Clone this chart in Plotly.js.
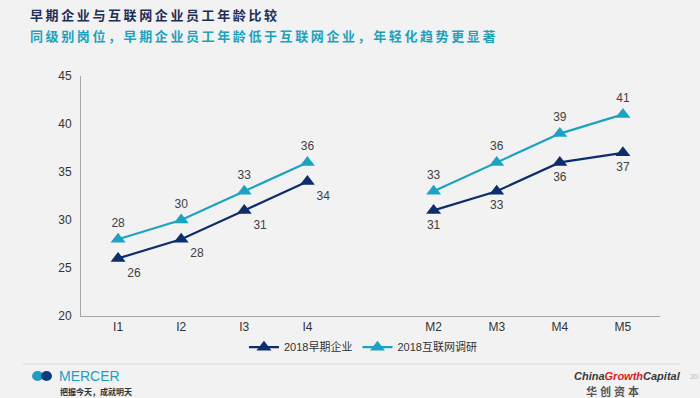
<!DOCTYPE html>
<html>
<head>
<meta charset="utf-8">
<script src="https://cdn.plot.ly/plotly-3.0.1.min.js"></script>
<style>
html,body{margin:0;padding:0;background:#f2f2f2;}
#chart{width:700px;height:398px;}
</style>
</head>
<body>
<div id="chart"></div>
<script>
var categories = ['I1', 'I2', 'I3', 'I4', ' ', 'M2', 'M3', 'M4', 'M5'];
var earlyStage = [26, 28, 31, 34, null, 31, 33, 36, 37];
var internet = [28, 30, 33, 36, null, 33, 36, 39, 41];
var earlyLabelPos = ['bottom right', 'bottom right', 'bottom right', 'bottom right', 'bottom center',
                     'bottom center', 'bottom center', 'bottom center', 'bottom center'];
var seriesNames = ['2018早期企业', '2018互联网调研'];
var yTicks = [20, 25, 30, 35, 40, 45];

var navy = '#0c2d6e';
var teal = '#1ba3c6';
var labelFont = {family: 'Liberation Sans, Arial, sans-serif', size: 12, color: '#404040'};

var traces = [
  {
    x: categories, y: earlyStage, name: seriesNames[0], type: 'scatter', mode: 'lines+markers+text',
    line: {color: navy, width: 2.2},
    marker: {symbol: 'triangle-up', size: 13, color: navy},
    texttemplate: '%{y}', textposition: earlyLabelPos, textfont: labelFont,
    connectgaps: false, hoverinfo: 'skip', cliponaxis: false
  },
  {
    x: categories, y: internet, name: seriesNames[1], type: 'scatter', mode: 'lines+markers+text',
    line: {color: teal, width: 2.2},
    marker: {symbol: 'triangle-up', size: 13, color: teal},
    texttemplate: '%{y}', textposition: 'top center', textfont: labelFont,
    connectgaps: false, hoverinfo: 'skip', cliponaxis: false
  }
];

var sp = 'letter-spacing:2.6px';
var layout = {
  width: 700, height: 398,
  paper_bgcolor: '#f2f2f2', plot_bgcolor: '#f2f2f2',
  margin: {l: 81, r: 40, t: 76, b: 82},
  showlegend: true,
  legend: {
    orientation: 'h', x: 0.487, xanchor: 'center', y: -0.13, yanchor: 'middle',
    font: {family: 'Liberation Sans, Noto Sans CJK SC, sans-serif', size: 11, color: '#333333'},
    bgcolor: 'rgba(0,0,0,0)', itemwidth: 30
  },
  xaxis: {
    type: 'category', categoryorder: 'array', categoryarray: categories,
    showline: true, linecolor: '#a6a6a6', linewidth: 1,
    showgrid: false, zeroline: false, ticks: '',
    tickfont: {family: 'Liberation Sans, Arial, sans-serif', size: 12, color: '#333333'},
    fixedrange: true
  },
  yaxis: {
    range: [20, 45], tickvals: yTicks, showline: true, linecolor: '#a6a6a6', linewidth: 1,
    showgrid: false, zeroline: false, ticks: '', ticklen: 0, ticklabelstandoff: 6,
    tickfont: {family: 'Liberation Sans, Arial, sans-serif', size: 12, color: '#333333'},
    fixedrange: true
  },
  shapes: [
    {type: 'line', xref: 'paper', yref: 'paper', x0: -0.1, x1: 1.0345, y0: -0.2, y1: -0.2,
     line: {color: '#d9d9d9', width: 1}},
    {type: 'circle', xref: 'paper', yref: 'paper', x0: -0.0846, x1: -0.065, y0: -0.271, y1: -0.229,
     fillcolor: '#1b9fc9', line: {width: 0}},
    {type: 'circle', xref: 'paper', yref: 'paper', x0: -0.069, x1: -0.0501, y0: -0.271, y1: -0.229,
     fillcolor: '#0d3c7c', line: {width: 0}}
  ],
  annotations: [
    {xref: 'paper', yref: 'paper', x: -0.0915, y: 1.258, xanchor: 'left', yanchor: 'middle', showarrow: false,
     text: '<b><span style="' + sp + '">早期企业与互联网企业员工年龄比较</span></b>',
     font: {family: 'Noto Sans CJK SC, sans-serif', size: 13, color: '#1f2d5a'}},
    {xref: 'paper', yref: 'paper', x: -0.0915, y: 1.1667, xanchor: 'left', yanchor: 'middle', showarrow: false,
     text: '<b><span style="' + sp + '">同级别岗位，早期企业员工年龄低于互联网企业，年轻化趋势更显著</span></b>',
     font: {family: 'Noto Sans CJK SC, sans-serif', size: 13, color: '#1aa3bf'}},
    {xref: 'paper', yref: 'paper', x: -0.0415, y: -0.25, xanchor: 'left', yanchor: 'middle', showarrow: false,
     text: 'MERCER', font: {family: 'Liberation Sans, Arial, sans-serif', size: 14, color: '#1b9fc9'}},
    {xref: 'paper', yref: 'paper', x: -0.0397, y: -0.3125, xanchor: 'left', yanchor: 'middle', showarrow: false,
     text: '<b>把握今天，成就明天</b>', font: {family: 'Noto Sans CJK SC, sans-serif', size: 8, color: '#333333'}},
    {xref: 'paper', yref: 'paper', x: 0.9447, y: -0.25, xanchor: 'center', yanchor: 'middle', showarrow: false,
     text: '<b><i>China<span style="fill:#e0201b">Growth</span>Capital</i></b>',
     font: {family: 'Liberation Sans, Arial, sans-serif', size: 11, color: '#3a3a3a'}},
    {xref: 'paper', yref: 'paper', x: 0.9206, y: -0.3125, xanchor: 'center', yanchor: 'middle', showarrow: false,
     text: '<b><span style="letter-spacing:3px">华创资本</span></b>', font: {family: 'Noto Sans CJK SC, sans-serif', size: 11, color: '#555555'}},
    {xref: 'paper', yref: 'paper', x: 1.0587, y: -0.254, xanchor: 'center', yanchor: 'middle', showarrow: false,
     text: '30', font: {family: 'Liberation Sans, Arial, sans-serif', size: 7, color: '#bbbbbb'}}
  ]
};

Plotly.newPlot('chart', traces, layout, {displayModeBar: false, staticPlot: true});
</script>
</body>
</html>
